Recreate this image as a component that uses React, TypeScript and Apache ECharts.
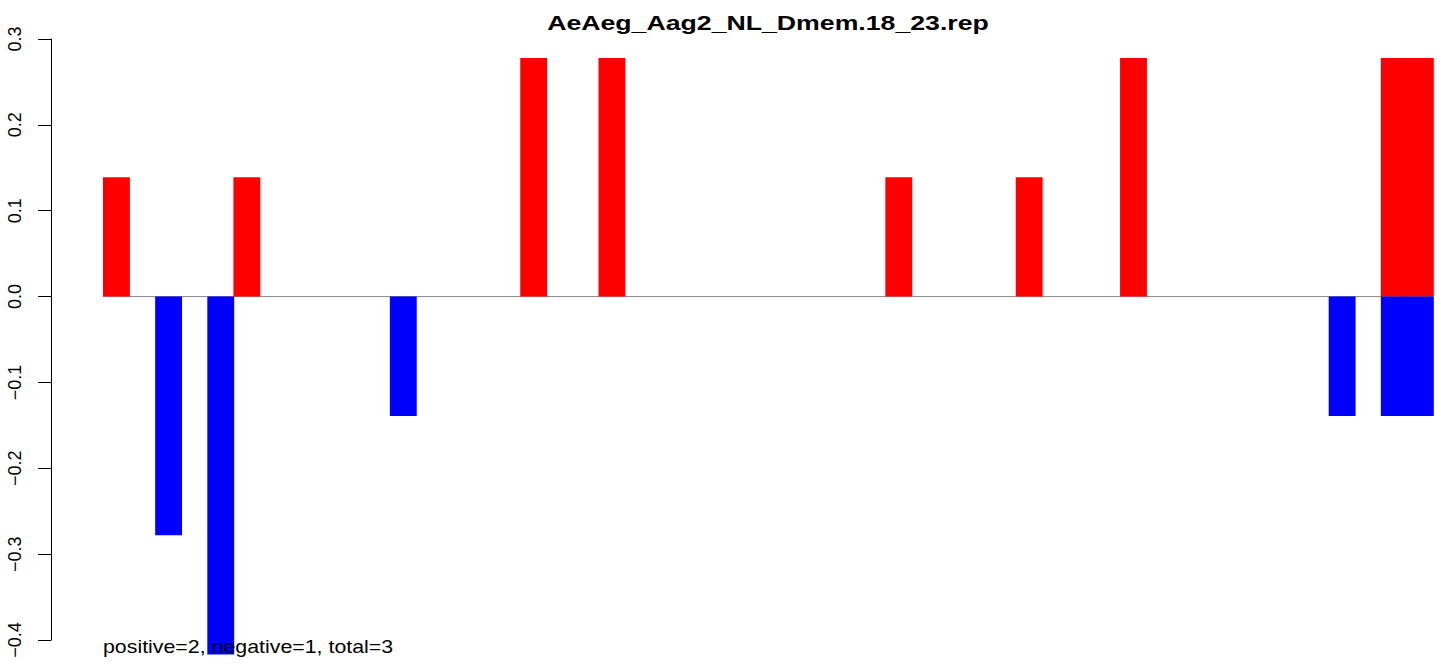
import React, { useEffect, useRef } from "react";
import * as echarts from "echarts";

const TITLE = "AeAeg_Aag2_NL_Dmem.18_23.rep";
const NOTE = "positive=2, negative=1, total=3";
const TOTAL_SLOTS = 51;
const POS_SLOTS = [0, 5, 16, 19, 30, 35, 39, 49, 50];
const POS_VALUES = [0.139, 0.139, 0.278, 0.278, 0.139, 0.139, 0.278, 0.278, 0.278];
const NEG_SLOTS = [2, 4, 11, 47, 49, 50];
const NEG_VALUES = [-0.278, -0.417, -0.139, -0.139, -0.139, -0.139];
const Y_MIN = -0.4;
const Y_MAX = 0.3;
const Y_STEP = 0.1;

const FONT = '"Liberation Sans", Arial, Helvetica, sans-serif';

function barSeries(name: string, slots: number[], values: number[], color: string) {
  return {
    name,
    type: "custom",
    clip: false,
    z: 3,
    data: slots.map((s, i) => [s, values[i]]),
    encode: { x: 0, y: 1 },
    renderItem: (_params: any, api: any) => {
      const s = api.value(0);
      const v = api.value(1);
      const p0 = api.coord([s, 0]);
      const p1 = api.coord([s + 1, v]);
      return {
        type: "rect",
        shape: {
          x: p0[0],
          y: Math.min(p0[1], p1[1]),
          width: p1[0] - p0[0] + 0.8,
          height: Math.abs(p1[1] - p0[1]),
        },
        style: { fill: color },
      };
    },
  };
}

export default function App() {
  const ref = useRef<HTMLDivElement>(null);
  useEffect(() => {
    document.body.style.margin = "0";
    if (!ref.current) return;
    const chart = echarts.init(ref.current, null, { renderer: "svg" });
    const pxPerUnit = 1330 / TOTAL_SLOTS;
    const xMin = -52 / pxPerUnit;
    const xMax = xMin + 1390 / pxPerUnit;
    chart.setOption({
      animation: false,
      backgroundColor: "#ffffff",
      grid: { left: 51, right: 0, top: 39, bottom: 26, containLabel: false },
      xAxis: {
        type: "value",
        min: xMin,
        max: xMax,
        show: false,
        splitLine: { show: false },
      },
      yAxis: {
        type: "value",
        min: Y_MIN,
        max: Y_MAX,
        interval: Y_STEP,
        axisLine: { show: true, onZero: false, lineStyle: { color: "#000", width: 1 } },
        axisTick: { show: true, inside: false, length: 13, lineStyle: { color: "#000", width: 1 } },
        splitLine: { show: false },
        axisLabel: {
          rotate: 90,
          margin: 27,
          fontSize: 18,
          fontFamily: FONT,
          color: "#000",
          formatter: (v: number) => {
            const r = Math.round(v * 10) / 10;
            return (r < 0 ? "\u2212" : "") + Math.abs(r).toFixed(1);
          },
        },
      },
      series: [
        {
          name: "zero",
          type: "line",
          silent: true,
          symbol: "none",
          z: 1,
          data: [
            [0, 0],
            [TOTAL_SLOTS, 0],
          ],
          lineStyle: { color: "#8a8a8a", width: 1 },
        },
        barSeries("positive", POS_SLOTS, POS_VALUES, "#ff0000"),
        barSeries("negative", NEG_SLOTS, NEG_VALUES, "#0000ff"),
      ],
      graphic: [
        {
          type: "text",
          x: 768,
          y: 22.6,
          scaleX: 1.27,
          z: 10,
          style: {
            text: TITLE,
            fontSize: 21,
            fontWeight: "bold",
            fontFamily: FONT,
            fill: "#000",
            align: "center",
            textAlign: "center",
            verticalAlign: "middle",
            textVerticalAlign: "middle",
          },
        },
        {
          type: "text",
          x: 103,
          y: 647,
          scaleX: 1.22,
          z: 10,
          style: {
            text: NOTE,
            fontSize: 17.5,
            fontFamily: FONT,
            fill: "#000",
            align: "left",
            textAlign: "left",
            verticalAlign: "middle",
            textVerticalAlign: "middle",
          },
        },
      ],
    });
    return () => chart.dispose();
  }, []);
  return (
    <div
      ref={ref}
      style={{ position: "absolute", left: 0, top: 0, width: 1441, height: 666 }}
    />
  );
}
